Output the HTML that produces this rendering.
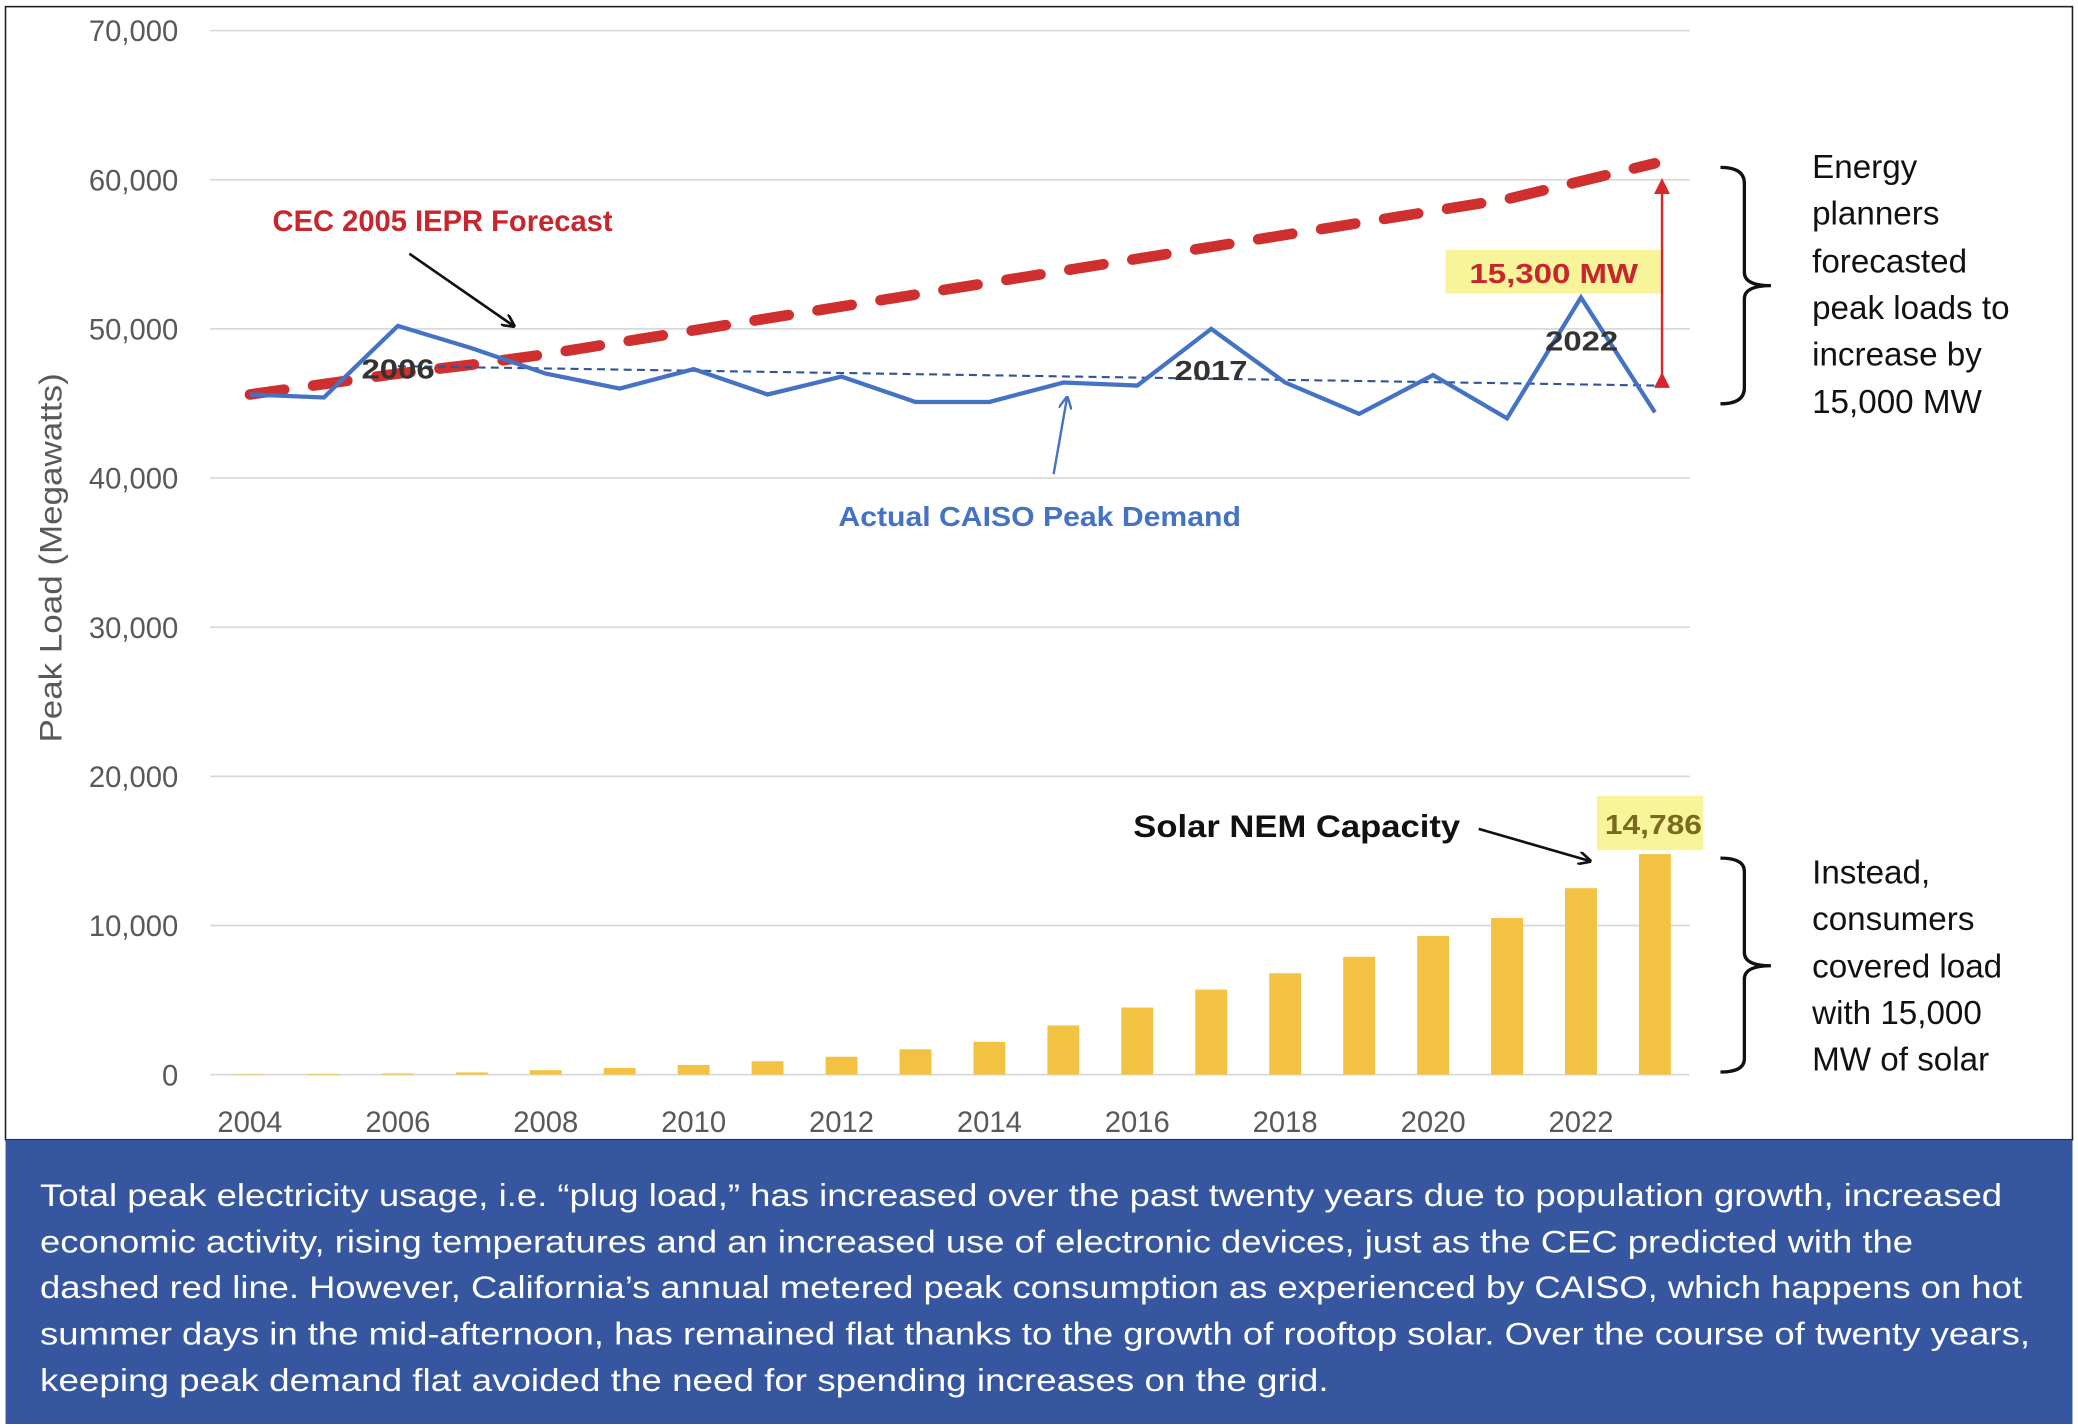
<!DOCTYPE html>
<html><head><meta charset="utf-8"><style>
html,body{margin:0;padding:0;background:#fff;}
svg{display:block;}
text{font-family:"Liberation Sans",sans-serif;}
</style></head><body>
<svg id="chart" width="2078" height="1428" viewBox="0 0 1564 1075" xmlns="http://www.w3.org/2000/svg">
<rect x="0" y="0" width="1564" height="1075" fill="#fff"/>
<rect x="4" y="5" width="1556" height="853" fill="#fff" stroke="#222" stroke-width="1.2"/>
<g id="grid"></g>
<g id="yticks"></g>
<g id="xticks"></g>
<text transform="translate(46,420) rotate(-90)" text-anchor="middle" font-size="24" fill="#595959" textLength="278" lengthAdjust="spacingAndGlyphs">Peak Load (Megawatts)</text>
<g id="bars"></g>
<g id="lines"></g>
<defs>
<marker id="ah" markerWidth="10" markerHeight="10" refX="8" refY="5" orient="auto" markerUnits="userSpaceOnUse"><path d="M0,0 L10,5 L0,10" fill="none" stroke="#111" stroke-width="2"/></marker>
<marker id="ahb" markerWidth="10" markerHeight="10" refX="8" refY="5" orient="auto" markerUnits="userSpaceOnUse"><path d="M0,0 L10,5 L0,10" fill="none" stroke="#4472c4" stroke-width="1.8"/></marker>
<marker id="ahr" markerWidth="12" markerHeight="12" refX="10" refY="6" orient="auto" markerUnits="userSpaceOnUse"><path d="M0,0 L12,6 L0,12 Z" fill="#d9262d"/></marker>
</defs>
<text x="205" y="174" font-size="22" font-weight="bold" fill="#c8252c" textLength="256" lengthAdjust="spacingAndGlyphs">CEC 2005 IEPR Forecast</text>
<line x1="308" y1="191" x2="386" y2="245" stroke="#111" stroke-width="2" marker-end="url(#ah)"/>
<text x="272" y="285" font-size="21" font-weight="bold" fill="#333" textLength="55" lengthAdjust="spacingAndGlyphs">2006</text>
<text x="884" y="286" font-size="21" font-weight="bold" fill="#333" textLength="55" lengthAdjust="spacingAndGlyphs">2017</text>
<text x="1163" y="264" font-size="21" font-weight="bold" fill="#333" textLength="55" lengthAdjust="spacingAndGlyphs">2022</text>
<text x="631" y="396" font-size="21" font-weight="bold" fill="#4472c4" textLength="303" lengthAdjust="spacingAndGlyphs">Actual CAISO Peak Demand</text>
<line x1="793" y1="357" x2="803" y2="300" stroke="#4472c4" stroke-width="1.8" marker-end="url(#ahb)"/>
<rect x="1088" y="188" width="162" height="33" fill="#f7f49a"/>
<text x="1106" y="213" font-size="21" font-weight="bold" fill="#c8252c" textLength="127" lengthAdjust="spacingAndGlyphs">15,300 MW</text>
<line x1="1251" y1="282" x2="1251" y2="136" stroke="#d9262d" stroke-width="1.8" marker-end="url(#ahr)" marker-start="url(#ahr)"/>
<path d="M1295,126 Q1313,126 1313,138 L1313,205 Q1313,215 1333,215 Q1313,215 1313,225 L1313,292 Q1313,304 1295,304" fill="none" stroke="#111" stroke-width="2.5"/>
<g font-size="25" fill="#111">
<text x="1364" y="134">Energy</text><text x="1364" y="169">planners</text><text x="1364" y="205">forecasted</text><text x="1364" y="240">peak loads to</text><text x="1364" y="275">increase by</text><text x="1364" y="311">15,000 MW</text>
</g>
<text x="853" y="630" font-size="24" font-weight="bold" fill="#111" textLength="246" lengthAdjust="spacingAndGlyphs">Solar NEM Capacity</text>
<line x1="1113" y1="624" x2="1196" y2="648" stroke="#111" stroke-width="2" marker-end="url(#ah)"/>
<rect x="1202" y="599" width="80" height="41" fill="#f7f49a"/>
<text x="1208" y="628" font-size="21" font-weight="bold" fill="#7a6a1f" textLength="73" lengthAdjust="spacingAndGlyphs">14,786</text>
<path d="M1295,646 Q1313,646 1313,656 L1313,717 Q1313,727 1333,727 Q1313,727 1313,737 L1313,797 Q1313,807 1295,807" fill="none" stroke="#111" stroke-width="2.5"/>
<g font-size="25" fill="#111">
<text x="1364" y="665">Instead,</text><text x="1364" y="700">consumers</text><text x="1364" y="736">covered load</text><text x="1364" y="771">with 15,000</text><text x="1364" y="806">MW of solar</text>
</g>
<rect x="4" y="858" width="1556" height="214" fill="#3657a0"/>
<g font-size="24" fill="#fff">
<text x="30" y="908" textLength="1477" lengthAdjust="spacingAndGlyphs">Total peak electricity usage, i.e. “plug load,” has increased over the past twenty years due to population growth, increased</text>
<text x="30" y="943" textLength="1410" lengthAdjust="spacingAndGlyphs">economic activity, rising temperatures and an increased use of electronic devices, just as the CEC predicted with the</text>
<text x="30" y="977" textLength="1492" lengthAdjust="spacingAndGlyphs">dashed red line. However, California’s annual metered peak consumption as experienced by CAISO, which happens on hot</text>
<text x="30" y="1012" textLength="1498" lengthAdjust="spacingAndGlyphs">summer days in the mid-afternoon, has remained flat thanks to the growth of rooftop solar. Over the course of twenty years,</text>
<text x="30" y="1047" textLength="970" lengthAdjust="spacingAndGlyphs">keeping peak demand flat avoided the need for spending increases on the grid.</text>
</g>
</svg>
<script>
const years = [2004,2005,2006,2007,2008,2009,2010,2011,2012,2013,2014,2015,2016,2017,2018,2019,2020,2021,2022,2023];
const actualPeak = [45600,45400,50200,48700,47000,46000,47300,45600,46800,45100,45100,46400,46200,50000,46400,44300,46900,44000,52100,44400];
const forecastPeak = [45600,46300,47000,47600,48300,49100,49900,50700,51500,52300,53100,53900,54700,55500,56300,57100,57900,58700,59900,61100];
const solarNem = [30,50,80,150,300,450,650,900,1200,1700,2200,3300,4500,5700,6800,7900,9300,10500,12500,14786];
const trendYears = [2006,2023];
const trendValues = [47500,46200];
const yTicks = [0,10000,20000,30000,40000,50000,60000,70000];
const yTickLabels = ["0","10,000","20,000","30,000","40,000","50,000","60,000","70,000"];
const xTickYears = [2004,2006,2008,2010,2012,2014,2016,2018,2020,2022];

const NS="http://www.w3.org/2000/svg";
const X0=188, PX=(1190-188)/18, Y0=809, PY=(809-23)/70000;
function xs(yr){return X0+(yr-2004)*PX;}
function ys(v){return Y0-v*PY;}
function mk(tag,attrs,parent){const e=document.createElementNS(NS,tag);for(const k in attrs)e.setAttribute(k,attrs[k]);parent.appendChild(e);return e;}

const grid=document.getElementById('grid'), yt=document.getElementById('yticks'), xt=document.getElementById('xticks');
yTicks.forEach((v,i)=>{
  const l=mk('line',{x1:158,x2:1272,y1:ys(v),y2:ys(v),stroke:'#d9d9d9','stroke-width':1.3},grid);
  
  
  const t=mk('text',{x:134,y:ys(v)+8,'text-anchor':'end','font-size':22,fill:'#595959'},yt);
  t.textContent=yTickLabels[i];
  
  
});
xTickYears.forEach(yr=>{
  const t=mk('text',{x:xs(yr),y:852,'text-anchor':'middle','font-size':22,fill:'#595959'},xt);
  t.textContent=String(yr);
  
  
});
const bars=document.getElementById('bars');
years.forEach((yr,i)=>{
  const h=solarNem[i]*PY;
  const r=mk('rect',{x:xs(yr)-12,y:Y0-h,width:24,height:h,fill:'#f4c242'},bars);
  
  
});
const lines=document.getElementById('lines');
const fp=years.map((yr,i)=>xs(yr)+','+ys(forecastPeak[i])).join(' ');
const f=mk('polyline',{points:fp,fill:'none',stroke:'#d02f2f','stroke-width':8,'stroke-dasharray':'26 22','stroke-linecap':'round'},lines);


const tp=trendYears.map((yr,i)=>xs(yr)+','+ys(trendValues[i])).join(' ');
const t=mk('polyline',{points:tp,fill:'none',stroke:'#2f5597','stroke-width':1.6,'stroke-dasharray':'6 4'},lines);


const ap=years.map((yr,i)=>xs(yr)+','+ys(actualPeak[i])).join(' ');
const a=mk('polyline',{points:ap,fill:'none',stroke:'#4472c4','stroke-width':3.2,'stroke-linejoin':'miter'},lines);


</script>
</body></html>
